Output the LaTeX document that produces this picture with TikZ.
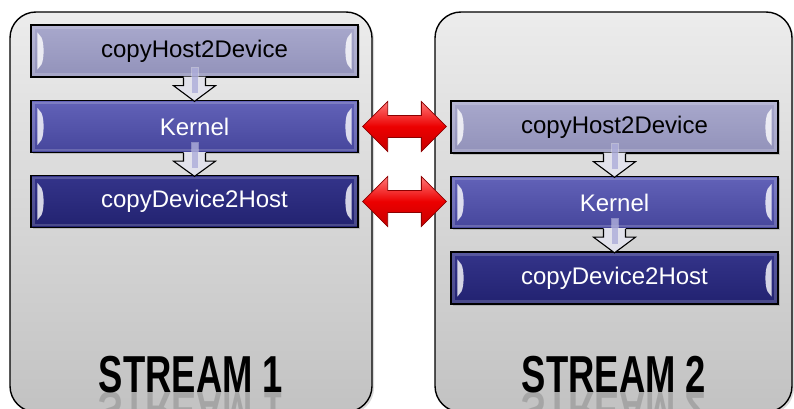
\documentclass[tikz,border=0pt]{standalone}
\usepackage{fontspec}
\setmainfont{Liberation Sans}
\usetikzlibrary{calc,shadows}

\definecolor{paneltop}{RGB}{236,236,236}
\definecolor{panelbot}{RGB}{194,194,194}
\definecolor{hdtop}{RGB}{168,168,204}
\definecolor{hdbot}{RGB}{146,146,186}
\definecolor{ktop}{RGB}{98,98,184}
\definecolor{kbot}{RGB}{70,70,156}
\definecolor{dhtop}{RGB}{52,52,138}
\definecolor{dhbot}{RGB}{34,34,112}
\definecolor{redtop}{RGB}{255,120,120}
\definecolor{redmid}{RGB}{236,0,0}
\definecolor{redbot}{RGB}{200,0,0}
\definecolor{redline}{RGB}{140,0,0}
\definecolor{flowfill}{RGB}{226,226,236}
\definecolor{flowstripe}{RGB}{165,165,215}

\tikzset{
  panel/.style={draw=black, line width=1.4pt, rounded corners=26pt,
    top color=paneltop, bottom color=panelbot, inner sep=0pt,
    drop shadow={shadow xshift=2pt, shadow yshift=-2pt, opacity=.3}},
  stagebox/.style={draw=black, line width=1.3pt, minimum width=327pt,
    minimum height=52pt, inner sep=0pt, font=\fontsize{24}{28}\selectfont,
    drop shadow={shadow xshift=1.5pt, shadow yshift=-1.5pt, opacity=.35}},
  hostdev/.style={stagebox, top color=hdtop, bottom color=hdbot, text=black},
  kernel/.style={stagebox, top color=ktop, bottom color=kbot, text=white},
  devhost/.style={stagebox, top color=dhtop, bottom color=dhbot, text=white},
  streamlbl/.style={font=\fontsize{52}{60}\selectfont\bfseries, xscale=0.7, inner sep=0pt},
  gleam/.style={fill=white, opacity=.8},
  flowedge/.style={draw=black, line width=1.1pt, line join=miter},
  redlink/.style={draw=redline, line width=.8pt, top color=redtop,
    bottom color=redbot, middle color=redmid},
}

% glossy edge highlights inside a stage box
\newcommand\bevel[1]{%
  \fill[gleam] ($(#1.north west)+(7,8)$) -- ($(#1.north west)+(11,13)$)
    .. controls ($(#1.west)+(14,-8)$) and ($(#1.west)+(14,8)$) ..
    ($(#1.south west)+(11,-13)$) -- ($(#1.south west)+(7,-8)$) -- cycle;
  \fill[gleam] ($(#1.north east)+(-7,8)$) -- ($(#1.north east)+(-11,13)$)
    .. controls ($(#1.east)+(-14,-8)$) and ($(#1.east)+(-14,8)$) ..
    ($(#1.south east)+(-11,-13)$) -- ($(#1.south east)+(-7,-8)$) -- cycle;
  \draw[white, opacity=.18, line width=2.5pt]
    ($(#1.north west)+(3,3)$) rectangle ($(#1.south east)+(-3,-3)$);
}

% block arrow from one stage to the next
\newcommand\flowarrow[2]{%
  \fill[white, opacity=.35] let \p1=(#1.south) in
    (\x1-4pt,\y1+11pt) rectangle (\x1+4pt,\y1);
  \fill[flowfill] let \p1=(#1.south), \p2=(#2.north) in
    (\x1-11pt,\y1+1pt) -- (\x1-11pt,\y1-8pt) -- (\x1-21pt,\y1-8pt) --
    (\x1,\y2-1.5pt) -- (\x1+21pt,\y1-8pt) -- (\x1+11pt,\y1-8pt) --
    (\x1+11pt,\y1+1pt) -- cycle;
  \fill[flowstripe, opacity=.7] let \p1=(#1.south) in
    (\x1-3pt,\y1+10pt) rectangle (\x1+3pt,\y1-15pt);
  \draw[flowedge] let \p1=(#1.south), \p2=(#2.north) in
    (\x1-11pt,\y1) -- (\x1-11pt,\y1-8pt) -- (\x1-21pt,\y1-8pt) --
    (\x1,\y2-1.5pt) -- (\x1+21pt,\y1-8pt) -- (\x1+11pt,\y1-8pt) --
    (\x1+11pt,\y1);
}

% red double arrow linking concurrent stages
\newcommand\overlaplink[2]{%
  \path[redlink] let \p1=($(#1.east)+(4,0)$), \p2=($(#2.west)+(-4,0)$) in
    (\x1,\y1) -- (\x1+25pt,\y1+25pt) -- (\x1+25pt,\y1+11pt) --
    (\x2-25pt,\y1+11pt) -- (\x2-25pt,\y1+25pt) -- (\x2,\y1) --
    (\x2-25pt,\y1-25pt) -- (\x2-25pt,\y1-11pt) -- (\x1+25pt,\y1-11pt) --
    (\x1+25pt,\y1-25pt) -- cycle;
}

\begin{document}
\begin{tikzpicture}[x=1pt, y=-1pt]
  \useasboundingbox (0,0) rectangle (794,409);

  % stream panels
  \node[panel, minimum width=362pt, minimum height=400pt] (s1) at (191,212) {};
  \node[panel, minimum width=357pt, minimum height=400pt] (s2) at (613.5,212) {};

  % stream 1 stages
  \node[hostdev] (h1) at (194.5,51) {copyHost2Device};
  \node[kernel]  (k1) at (194.5,126.5) {Kernel};
  \node[devhost] (d1) at (194.5,201.5) {copyDevice2Host};

  % stream 2 stages
  \node[hostdev] (h2) at (614.5,127) {copyHost2Device};
  \node[kernel]  (k2) at (614.5,202.5) {Kernel};
  \node[devhost] (d2) at (614.5,278) {copyDevice2Host};

  \bevel{h1}\bevel{k1}\bevel{d1}
  \bevel{h2}\bevel{k2}\bevel{d2}

  \flowarrow{h1}{k1}
  \flowarrow{k1}{d1}
  \flowarrow{h2}{k2}
  \flowarrow{k2}{d2}

  \overlaplink{k1}{h2}
  \overlaplink{d1}{k2}

  % stream titles with faint reflections
  \node[streamlbl, anchor=base] (t1) at (191,392) {STREAM 1};
  \node[streamlbl, anchor=base] (t2) at (614,392) {STREAM 2};
  \node[streamlbl, anchor=base, yscale=-1, opacity=.15] (t1r) at (t1.base) {STREAM 1};
  \node[streamlbl, anchor=base, yscale=-1, opacity=.15] (t2r) at (t2.base) {STREAM 2};
\end{tikzpicture}
\end{document}
